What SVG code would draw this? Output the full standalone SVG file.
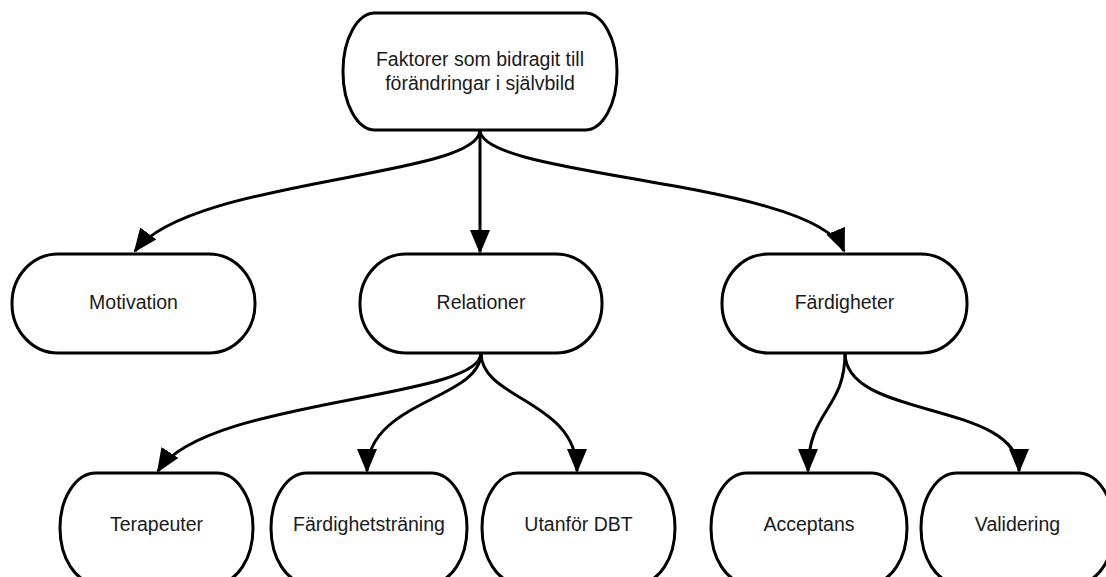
<svg xmlns="http://www.w3.org/2000/svg" width="1106" height="577" viewBox="0 0 1106 577">
<style>
.node rect{fill:#fff;stroke:#000;stroke-width:3}
.node text{font-family:"Liberation Sans",Arial,sans-serif;font-size:19.5px;fill:#1a1a1a;text-anchor:middle}
.edge{fill:none;stroke:#000;stroke-width:3;marker-end:url(#ah)}
</style>
<defs>
<marker id="ah" markerUnits="userSpaceOnUse" markerWidth="25" markerHeight="22" viewBox="0 0 25 22" refX="22" refY="11" orient="auto">
<path d="M0,1 L24,11 L0,21 Z" fill="#000"/>
</marker>
</defs>
<rect width="1106" height="577" fill="#fff"/>
<g id="connectors">
<path class="edge" d="M480,130 C480,178 190,178 135,251"/>
<path class="edge" d="M480,130 L480,252"/>
<path class="edge" d="M480,130 C480,178 815,180 844,251"/>
<path class="edge" d="M481,353 C481,400 205,398 158,471"/>
<path class="edge" d="M481,353 C481,400 367,400 367,471"/>
<path class="edge" d="M481,353 C481,400 577,400 577,471"/>
<path class="edge" d="M845,353 C845,410 808,410 808,471"/>
<path class="edge" d="M845,353 C845,420 1019,400 1019,471"/>
</g>
<g id="n-root" class="node"><rect x="343" y="13" width="274" height="117" rx="32" ry="58"/><text x="480" y="66">Faktorer som bidragit till</text><text x="480" y="90">förändringar i självbild</text></g>
<g id="n-motivation" class="node"><rect x="12" y="254" width="243" height="99" rx="46" ry="49"/><text x="133.5" y="309">Motivation</text></g>
<g id="n-relationer" class="node"><rect x="360" y="254" width="242" height="99" rx="46" ry="49"/><text x="481" y="309">Relationer</text></g>
<g id="n-fardigheter" class="node"><rect x="722" y="254" width="245" height="99" rx="46" ry="49"/><text x="844.5" y="309">Färdigheter</text></g>
<g id="n-terapeuter" class="node"><rect x="60" y="473" width="193" height="110" rx="36" ry="55"/><text x="156.5" y="531">Terapeuter</text></g>
<g id="n-fardighetstraning" class="node"><rect x="271" y="473" width="196" height="110" rx="36" ry="55"/><text x="369" y="531">Färdighetsträning</text></g>
<g id="n-utanfor" class="node"><rect x="482" y="473" width="193" height="110" rx="36" ry="55"/><text x="578.5" y="531">Utanför DBT</text></g>
<g id="n-acceptans" class="node"><rect x="711" y="473" width="196" height="110" rx="36" ry="55"/><text x="809" y="531">Acceptans</text></g>
<g id="n-validering" class="node"><rect x="921" y="473" width="193" height="110" rx="36" ry="55"/><text x="1017.5" y="531">Validering</text></g>
</svg>
